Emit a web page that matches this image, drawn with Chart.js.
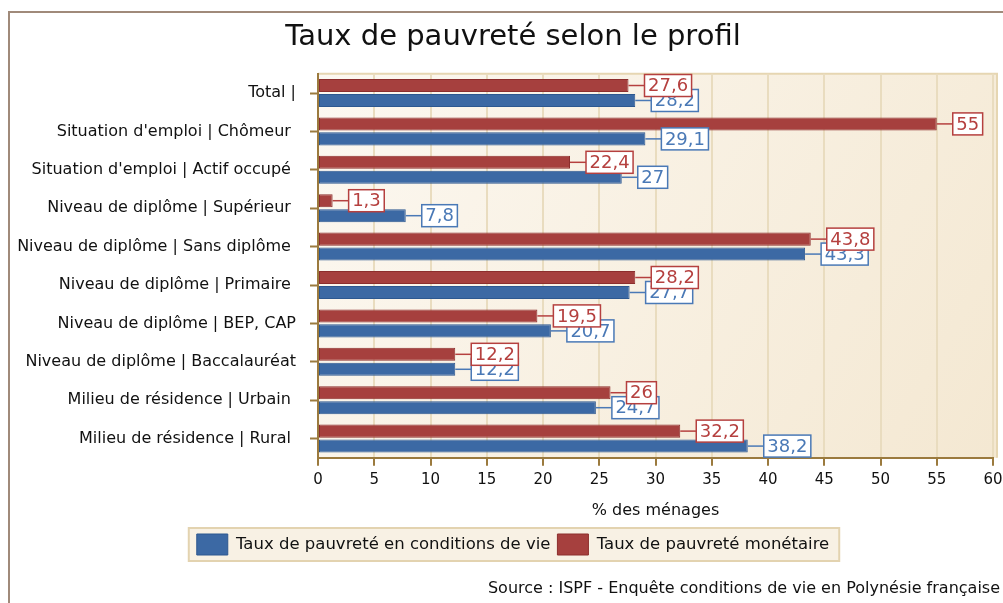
<!DOCTYPE html>
<html>
<head>
<meta charset="utf-8">
<script src="https://cdn.jsdelivr.net/npm/chart.js@4/dist/chart.umd.min.js"></script>
<style>
  html, body { margin: 0; padding: 0; background: #ffffff; overflow: hidden; }
  #wrap { position: absolute; left: 0; top: 0; width: 1003px; height: 603px; overflow: hidden; }
  #frame { position: absolute; left: 8px; top: 11px; width: 1100px; height: 700px; border-left: 2px solid #a08a7a; border-top: 2px solid #a08a7a; }
  canvas { position: absolute; left: 0; top: 0; }
</style>
</head>
<body>
<div id="wrap">
  <div id="frame"></div>
  <canvas id="c" width="1026" height="603"></canvas>
</div>
<script>
const categories = [
  "Total |",
  "Situation d'emploi | Chômeur ",
  "Situation d'emploi | Actif occupé ",
  "Niveau de diplôme | Supérieur ",
  "Niveau de diplôme | Sans diplôme ",
  "Niveau de diplôme | Primaire ",
  "Niveau de diplôme | BEP, CAP",
  "Niveau de diplôme | Baccalauréat",
  "Milieu de résidence | Urbain ",
  "Milieu de résidence | Rural "
];
const monetaire = [27.6, 55, 22.4, 1.3, 43.8, 28.2, 19.5, 12.2, 26, 32.2];
const conditionsVie = [28.2, 29.1, 27, 7.8, 43.3, 27.7, 20.7, 12.2, 24.7, 38.2];
const xTicks = [0, 5, 10, 15, 20, 25, 30, 35, 40, 45, 50, 55, 60];

const FONT = "'DejaVu Sans', Verdana, sans-serif";
const RED = '#a6403e', RED_TXT = '#b5403f';
const BLUE = '#3c69a4', BLUE_TXT = '#4a79b6';
const AXIS = '#9b7a3e';

const bgPlugin = {
  id: 'bg',
  beforeDraw(chart) {
    const { ctx, chartArea: a } = chart;
    ctx.save();
    const g = ctx.createLinearGradient(a.left, a.top, a.right, a.bottom);
    g.addColorStop(0, '#fcf8f1');
    g.addColorStop(1, '#f4e8d2');
    ctx.fillStyle = g;
    ctx.fillRect(a.left, a.top, a.right - a.left + 4, a.bottom - a.top);
    ctx.strokeStyle = '#e6d6b2';
    ctx.lineWidth = 2;
    ctx.beginPath();
    ctx.moveTo(a.left, a.top);
    ctx.lineTo(a.right + 4, a.top);
    ctx.lineTo(a.right + 4, a.bottom);
    ctx.stroke();
    const lg = chart.legend;
    if (lg && lg.legendHitBoxes && lg.legendHitBoxes.length) {
      const hb = lg.legendHitBoxes;
      const l = hb[0].left - 8, r = hb[hb.length - 1].left + hb[hb.length - 1].width + 10;
      const t = hb[0].top - 6, b = hb[0].top + hb[0].height + 6;
      ctx.fillStyle = '#f8f1e4';
      ctx.fillRect(l, t, r - l, b - t);
      ctx.strokeStyle = '#e3d3b0';
      ctx.lineWidth = 2;
      ctx.strokeRect(l, t, r - l, b - t);
    }
    ctx.restore();
  }
};

const labelPlugin = {
  id: 'vlabels',
  afterDatasetsDraw(chart) {
    const { ctx } = chart;
    ctx.save();
    ctx.font = '18px ' + FONT;
    ctx.textBaseline = 'middle';
    ctx.textAlign = 'left';
    for (let d = chart.data.datasets.length - 1; d >= 0; d--) {
      const ds = chart.data.datasets[d];
      const meta = chart.getDatasetMeta(d);
      const col = ds.labelColor;
      meta.data.forEach((el, i) => {
        const txt = String(ds.data[i]).replace('.', ',');
        const x = el.x, y = el.y;
        const w = ctx.measureText(txt).width + 7;
        const h = 22;
        const bx = x + 16;
        ctx.strokeStyle = col;
        ctx.lineWidth = 1.5;
        ctx.beginPath();
        ctx.moveTo(x, y);
        ctx.lineTo(bx, y);
        ctx.stroke();
        ctx.fillStyle = '#ffffff';
        ctx.fillRect(bx, y - h / 2, w, h);
        ctx.strokeRect(bx, y - h / 2, w, h);
        ctx.fillStyle = col;
        ctx.fillText(txt, bx + 3.5, y + 1);
      });
    }
    ctx.restore();
  }
};

const sourcePlugin = {
  id: 'source',
  afterDraw(chart) {
    const { ctx } = chart;
    ctx.save();
    ctx.font = '16px ' + FONT;
    ctx.fillStyle = '#111111';
    ctx.textAlign = 'right';
    ctx.textBaseline = 'middle';
    ctx.fillText('Source : ISPF - Enquête conditions de vie en Polynésie française', 1000, 589);
    ctx.restore();
  }
};

new Chart(document.getElementById('c'), {
  type: 'bar',
  data: {
    labels: categories,
    datasets: [
      { label: 'Taux de pauvreté monétaire', data: monetaire, backgroundColor: RED, borderColor: '#8c2e2d', borderWidth: 1, borderSkipped: false, labelColor: RED_TXT,
        categoryPercentage: 0.78, barPercentage: 0.87 },
      { label: 'Taux de pauvreté en conditions de vie', data: conditionsVie, backgroundColor: BLUE, borderColor: '#2d5890', borderWidth: 1, borderSkipped: false, labelColor: BLUE_TXT,
        categoryPercentage: 0.78, barPercentage: 0.87 }
    ]
  },
  options: {
    indexAxis: 'y',
    responsive: false,
    animation: false,
    devicePixelRatio: 1,
    layout: { padding: { left: 0, right: 0, top: 0, bottom: 38 } },
    scales: {
      x: {
        min: 0, max: 60,
        afterBuildTicks(scale) { scale.ticks = xTicks.map(v => ({ value: v })); },
        afterFit(scale) { scale.paddingRight = 33; },
        ticks: { color: '#111', font: { family: FONT, size: 15 }, padding: 5 },
        grid: { color: '#e9dcbf', lineWidth: 2, tickColor: AXIS, tickLength: 8, tickWidth: 2 },
        border: { color: AXIS, width: 2 },
        title: { display: true, text: '% des ménages', color: '#111', font: { family: FONT, size: 16 }, padding: { top: 7, bottom: 7 } }
      },
      y: {
        afterFit(scale) { scale.width = 318; },
        ticks: { color: '#111', font: { family: FONT, size: 16 }, padding: 14 },
        grid: { offset: false, drawOnChartArea: false, color: AXIS, tickLength: 8, tickWidth: 2 },
        border: { color: AXIS, width: 2 }
      }
    },
    plugins: {
      title: { display: true, text: 'Taux de pauvreté selon le profil', color: '#111', font: { family: FONT, size: 29, weight: 'normal' }, padding: { top: 20, bottom: 19 } },
      legend: {
        position: 'bottom',
        reverse: true,
        labels: { color: '#111', font: { family: FONT, size: 16.5 }, boxWidth: 31, boxHeight: 21, padding: 7 }
      },
      tooltip: { enabled: false }
    }
  },
  plugins: [bgPlugin, labelPlugin, sourcePlugin]
});
</script>
</body>
</html>
